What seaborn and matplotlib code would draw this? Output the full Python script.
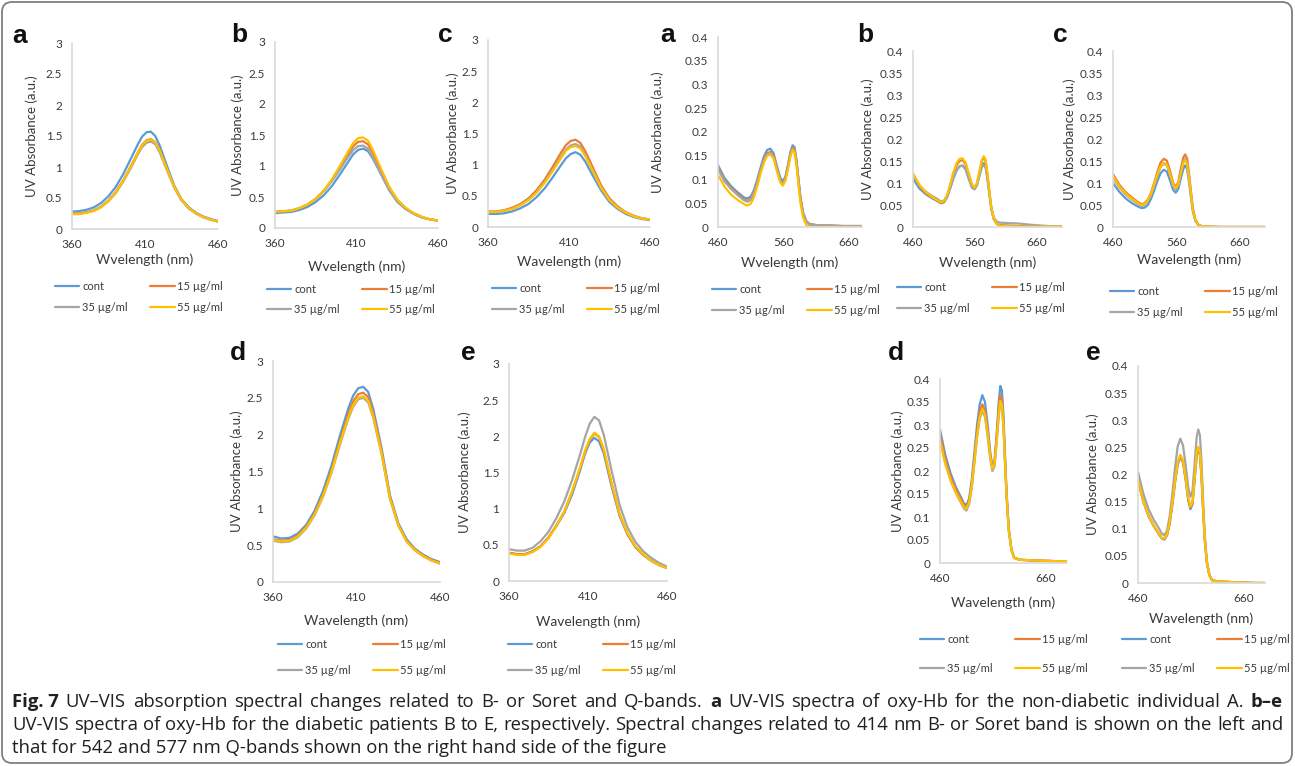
import numpy as np
import pandas as pd
import matplotlib
matplotlib.use('Agg')
import matplotlib.pyplot as plt
import seaborn as sns
from matplotlib.lines import Line2D
from matplotlib.patches import FancyBboxPatch
from matplotlib.transforms import IdentityTransform

sns.set_theme(style='white')
plt.rcParams['font.family'] = ['Lato', 'DejaVu Sans']

W, H = 1295, 766

series = ['cont', '15 µg/ml', '35 µg/ml', '55 µg/ml']
colors = ['#5B9BD5', '#ED7D31', '#A5A5A5', '#FFC000']

# ---- Soret (B) band, 360-460 nm ----
soret_wl = [360, 365, 370, 375, 380, 385, 390, 395, 400, 405, 408, 411, 414,
            417, 420, 425, 430, 435, 440, 445, 450, 455, 460]

soret_a = [
    [0.28, 0.29, 0.31, 0.35, 0.42, 0.53, 0.68, 0.88, 1.12, 1.36, 1.49, 1.56, 1.57, 1.50, 1.35, 1.02, 0.70, 0.48, 0.35, 0.26, 0.20, 0.16, 0.13],
    [0.25, 0.25, 0.27, 0.30, 0.36, 0.46, 0.60, 0.78, 1.00, 1.23, 1.36, 1.43, 1.45, 1.40, 1.27, 0.97, 0.68, 0.47, 0.34, 0.25, 0.19, 0.15, 0.12],
    [0.25, 0.25, 0.27, 0.30, 0.36, 0.45, 0.58, 0.76, 0.97, 1.20, 1.32, 1.39, 1.41, 1.37, 1.24, 0.95, 0.67, 0.46, 0.33, 0.25, 0.19, 0.15, 0.12],
    [0.24, 0.24, 0.26, 0.29, 0.35, 0.45, 0.59, 0.77, 0.99, 1.22, 1.35, 1.42, 1.44, 1.40, 1.27, 0.97, 0.68, 0.47, 0.34, 0.25, 0.19, 0.15, 0.12],
]
soret_b = [
    [0.24, 0.25, 0.26, 0.29, 0.34, 0.42, 0.53, 0.68, 0.87, 1.07, 1.19, 1.26, 1.28, 1.24, 1.12, 0.87, 0.62, 0.43, 0.31, 0.23, 0.17, 0.14, 0.12],
    [0.26, 0.27, 0.28, 0.32, 0.38, 0.47, 0.60, 0.77, 0.98, 1.20, 1.32, 1.39, 1.40, 1.35, 1.21, 0.92, 0.65, 0.45, 0.32, 0.24, 0.18, 0.14, 0.12],
    [0.26, 0.27, 0.28, 0.32, 0.38, 0.47, 0.60, 0.76, 0.95, 1.15, 1.26, 1.32, 1.33, 1.28, 1.14, 0.87, 0.61, 0.42, 0.31, 0.23, 0.17, 0.14, 0.12],
    [0.26, 0.27, 0.28, 0.32, 0.38, 0.47, 0.61, 0.79, 1.01, 1.24, 1.37, 1.45, 1.46, 1.41, 1.26, 0.96, 0.67, 0.46, 0.33, 0.24, 0.18, 0.14, 0.12],
]
soret_c = [
    [0.21, 0.21, 0.22, 0.25, 0.30, 0.37, 0.48, 0.62, 0.80, 0.99, 1.10, 1.17, 1.20, 1.16, 1.05, 0.81, 0.58, 0.40, 0.29, 0.21, 0.16, 0.13, 0.11],
    [0.25, 0.25, 0.27, 0.31, 0.37, 0.46, 0.59, 0.76, 0.97, 1.19, 1.31, 1.38, 1.40, 1.35, 1.22, 0.94, 0.66, 0.46, 0.33, 0.24, 0.18, 0.14, 0.12],
    [0.24, 0.24, 0.26, 0.29, 0.35, 0.44, 0.56, 0.72, 0.92, 1.12, 1.24, 1.31, 1.33, 1.29, 1.16, 0.89, 0.63, 0.44, 0.31, 0.23, 0.17, 0.14, 0.12],
    [0.24, 0.24, 0.26, 0.29, 0.35, 0.43, 0.55, 0.71, 0.90, 1.10, 1.22, 1.28, 1.30, 1.26, 1.14, 0.88, 0.62, 0.43, 0.31, 0.23, 0.17, 0.14, 0.12],
]
soret_d = [
    [0.62, 0.59, 0.60, 0.66, 0.78, 0.97, 1.24, 1.58, 1.98, 2.35, 2.53, 2.63, 2.65, 2.58, 2.35, 1.82, 1.18, 0.80, 0.58, 0.45, 0.37, 0.31, 0.27],
    [0.58, 0.56, 0.57, 0.63, 0.75, 0.93, 1.19, 1.52, 1.91, 2.27, 2.45, 2.55, 2.57, 2.51, 2.29, 1.78, 1.15, 0.78, 0.56, 0.44, 0.36, 0.30, 0.26],
    [0.56, 0.54, 0.55, 0.61, 0.73, 0.91, 1.16, 1.48, 1.86, 2.21, 2.38, 2.48, 2.50, 2.44, 2.23, 1.74, 1.13, 0.77, 0.55, 0.43, 0.35, 0.29, 0.25],
    [0.57, 0.55, 0.56, 0.62, 0.74, 0.92, 1.17, 1.49, 1.88, 2.23, 2.40, 2.50, 2.52, 2.46, 2.25, 1.75, 1.14, 0.77, 0.55, 0.43, 0.35, 0.29, 0.25],
]
soret_e = [
    [0.39, 0.37, 0.37, 0.41, 0.48, 0.60, 0.76, 0.94, 1.20, 1.53, 1.75, 1.91, 1.98, 1.93, 1.76, 1.30, 0.90, 0.64, 0.47, 0.36, 0.28, 0.22, 0.18],
    [0.39, 0.37, 0.37, 0.41, 0.48, 0.60, 0.77, 0.96, 1.24, 1.56, 1.78, 1.95, 2.04, 1.99, 1.81, 1.34, 0.92, 0.65, 0.47, 0.36, 0.28, 0.22, 0.18],
    [0.44, 0.42, 0.42, 0.46, 0.55, 0.68, 0.87, 1.10, 1.40, 1.75, 1.98, 2.17, 2.27, 2.22, 2.02, 1.52, 1.05, 0.74, 0.54, 0.41, 0.32, 0.25, 0.20],
    [0.38, 0.36, 0.36, 0.40, 0.47, 0.59, 0.76, 0.96, 1.24, 1.57, 1.79, 1.96, 2.05, 2.00, 1.82, 1.35, 0.93, 0.66, 0.48, 0.37, 0.28, 0.22, 0.18],
]

# ---- Q bands, 460-700 nm ----
q_wl = [460, 470, 480, 490, 500, 505, 510, 515, 520, 525, 530, 535, 540, 545,
        550, 555, 559, 563, 567, 571, 574, 577, 580, 583, 586, 590, 595, 600,
        610, 630, 650, 680, 700]

q_a = [
    [.130, .103, .086, .073, .062, .060, .064, .078, .100, .125, .148, .162, .165, .155, .128, .104, .096, .106, .132, .160, .172, .168, .140, .100, .062, .030, .012, .006, .004, .003, .002, .002, .002],
    [.125, .098, .082, .069, .058, .055, .059, .073, .095, .120, .142, .155, .158, .149, .123, .099, .092, .102, .128, .156, .168, .164, .137, .098, .060, .029, .012, .006, .004, .003, .002, .002, .002],
    [.122, .096, .080, .067, .056, .053, .057, .071, .093, .118, .140, .153, .156, .147, .121, .098, .091, .101, .126, .154, .165, .161, .134, .096, .059, .028, .011, .005, .004, .003, .002, .002, .002],
    [.110, .085, .068, .057, .048, .045, .049, .063, .086, .112, .135, .150, .153, .144, .118, .094, .087, .097, .123, .150, .162, .157, .128, .088, .050, .020, .004, .000, .000, .000, .000, .000, .000],
]
q_b = [
    [.110, .088, .075, .066, .058, .054, .056, .068, .088, .110, .128, .138, .140, .132, .110, .090, .086, .095, .118, .140, .145, .138, .110, .075, .042, .018, .007, .004, .003, .002, .002, .001, .001],
    [.120, .094, .078, .068, .060, .055, .058, .071, .094, .120, .140, .150, .152, .142, .118, .094, .088, .098, .124, .150, .158, .150, .118, .080, .045, .019, .007, .004, .003, .002, .002, .001, .001],
    [.118, .095, .081, .071, .063, .058, .060, .071, .090, .112, .130, .138, .139, .130, .108, .090, .086, .095, .116, .136, .141, .135, .108, .075, .045, .022, .012, .010, .009, .008, .005, .002, .001],
    [.122, .096, .080, .069, .060, .056, .059, .073, .097, .124, .145, .155, .156, .146, .121, .097, .090, .100, .127, .153, .161, .153, .121, .082, .046, .019, .007, .003, .002, .001, .001, .001, .001],
]
q_c = [
    [.100, .080, .065, .054, .046, .043, .044, .050, .064, .083, .104, .122, .130, .126, .106, .084, .078, .086, .110, .132, .140, .132, .103, .068, .036, .014, .004, .001, .000, .000, .000, .000, .000],
    [.120, .096, .079, .067, .056, .052, .054, .062, .078, .100, .125, .146, .155, .151, .128, .100, .091, .102, .132, .158, .165, .156, .122, .082, .044, .017, .005, .002, .001, .000, .000, .000, .000],
    [.112, .090, .074, .062, .052, .048, .050, .058, .073, .094, .117, .136, .144, .140, .119, .093, .085, .095, .123, .148, .155, .146, .114, .076, .041, .016, .005, .002, .001, .000, .000, .000, .000],
    [.115, .092, .076, .064, .054, .050, .052, .060, .075, .096, .119, .138, .146, .142, .121, .096, .088, .097, .122, .146, .152, .143, .112, .075, .040, .016, .005, .002, .001, .000, .000, .000, .000],
]
q_d = [
    [.290, .235, .195, .165, .142, .130, .126, .140, .180, .240, .300, .345, .365, .350, .300, .240, .208, .220, .280, .350, .385, .375, .320, .230, .150, .075, .030, .012, .007, .006, .005, .004, .004],
    [.280, .226, .188, .160, .138, .126, .121, .135, .172, .228, .285, .328, .345, .332, .288, .235, .210, .220, .272, .335, .365, .356, .305, .220, .145, .072, .029, .012, .007, .006, .005, .004, .004],
    [.270, .218, .180, .152, .130, .119, .114, .128, .163, .217, .272, .314, .330, .318, .276, .226, .200, .210, .260, .320, .350, .342, .292, .212, .140, .070, .028, .011, .007, .006, .005, .004, .004],
    [.265, .215, .180, .153, .132, .122, .118, .132, .166, .220, .275, .318, .335, .322, .280, .230, .205, .214, .263, .323, .352, .344, .294, .214, .141, .070, .028, .011, .007, .006, .005, .004, .004],
]
q_e = [
    [.190, .150, .123, .104, .089, .082, .080, .088, .110, .145, .185, .218, .232, .222, .190, .152, .136, .145, .190, .235, .246, .236, .195, .135, .082, .038, .014, .005, .003, .002, .001, .000, .000],
    [.190, .151, .124, .105, .090, .083, .082, .090, .112, .147, .188, .221, .235, .225, .193, .155, .139, .148, .193, .238, .249, .239, .197, .137, .083, .038, .014, .005, .003, .002, .001, .000, .000],
    [.205, .165, .136, .116, .100, .091, .088, .097, .124, .165, .213, .252, .266, .254, .218, .176, .159, .170, .220, .270, .283, .272, .224, .155, .092, .042, .015, .005, .003, .002, .001, .000, .000],
    [.190, .151, .124, .105, .090, .083, .082, .090, .113, .148, .189, .222, .236, .226, .194, .157, .141, .150, .195, .240, .251, .241, .198, .138, .084, .039, .014, .005, .003, .002, .001, .000, .000],
]

soret_ticks = [360, 410, 460]
q_ticks_top = [460, 560, 660]
q_ticks_bottom = [460, 660]

caption_1 = [("Fig. 7", True), ("UV–VIS", False), ("absorption", False), ("spectral", False),
             ("changes", False), ("related", False), ("to", False), ("B-", False), ("or", False),
             ("Soret", False), ("and", False), ("Q-bands.", False), ("a", True), ("UV-VIS", False),
             ("spectra", False), ("of", False), ("oxy-Hb", False), ("for", False), ("the", False),
             ("non-diabetic", False), ("individual", False), ("A.", False), ("b–e", True)]
caption_2 = ("UV-VIS spectra of oxy-Hb for the diabetic patients B to E, respectively. Spectral "
             "changes related to 414 nm B- or Soret band is shown on the left and")
caption_3 = "that for 542 and 577 nm Q-bands shown on the right hand side of the figure"

# panel layout in pixels: letter, data, wl, (x0, x1, ytop, ybot), letter pos, ylabel x, xlabel y, legend (x, y, gap), xlabel
panels = [
    ('a', soret_a, soret_wl, (72, 218, 43, 229), (12, 43), 32, 260, (55, 287, 20), 'Wvelength (nm)'),
    ('b', soret_b, soret_wl, (275, 438, 42, 228), (231, 42), 238, 267, (267, 290, 19), 'Wvelength (nm)'),
    ('c', soret_c, soret_wl, (488, 650, 40, 227), (438, 42), 453, 262, (492, 289, 20), 'Wavelength (nm)'),
    ('a', q_a, q_wl, (718, 862, 37, 227), (660, 42), 658, 263, (712, 290, 20), 'Wvelength (nm)'),
    ('b', q_b, q_wl, (913, 1062, 51, 227), (857, 42), 868, 263, (897, 288, 20), 'Wvelength (nm)'),
    ('c', q_c, q_wl, (1113, 1265, 51, 227), (1053, 42), 1070, 260, (1110, 292, 20), 'Wavelength (nm)'),
    ('d', soret_d, soret_wl, (273, 440, 361, 582), (230, 360), 237, 621, (278, 645, 25), 'Wavelength (nm)'),
    ('e', soret_e, soret_wl, (509, 667, 364, 581), (461, 360), 465, 622, (508, 645, 25), 'Wavelength (nm)'),
    ('d', q_d, q_wl, (940, 1067, 379, 563), (888, 360), 898, 603, (920, 640, 28), 'Wavelength (nm)'),
    ('e', q_e, q_wl, (1138, 1265, 366, 583), (1086, 360), 1093, 619, (1122, 640, 28), 'Wavelength (nm)'),
]

fig = plt.figure(figsize=(W / 100, H / 100), dpi=100)
fig.patch.set_facecolor('white')

txt = '#3A3A3A'
leg_fs = 8
for i, (letter, vals, wl, box, lpos, ylx, xly, leg, xlab) in enumerate(panels):
    x0, x1, yt, yb = box
    ax = fig.add_axes([x0 / W, 1 - yb / H, (x1 - x0) / W, (yb - yt) / H])
    df = pd.DataFrame({
        'wl': wl * 4,
        'absorb': sum(vals, []),
        'sample': [s for s in series for _ in wl],
    })
    sns.lineplot(data=df, x='wl', y='absorb', hue='sample', hue_order=series,
                 palette=colors, linewidth=1.6, errorbar=None, legend=False, ax=ax)
    soret = wl[0] == 360
    if soret:
        ax.set_xlim(360, 460)
        ax.set_xticks(soret_ticks)
        ax.set_ylim(0, 3)
        ax.set_yticks(np.arange(0, 3.01, 0.5))
    else:
        ax.set_xlim(460, 680 if i == 3 else 700)
        ax.set_xticks(q_ticks_top if i < 6 else q_ticks_bottom)
        ax.set_ylim(0, 0.4)
        ax.set_yticks(np.arange(0, 0.401, 0.05))
    ax.yaxis.set_major_formatter(matplotlib.ticker.FuncFormatter(lambda v, p: f'{v:g}'))
    ax.tick_params(length=0, labelsize=8.5, colors=txt, pad=7)
    for s in ['top', 'right']:
        ax.spines[s].set_visible(False)
    for s in ['left', 'bottom']:
        ax.spines[s].set_color('#D9D9D9')
        ax.spines[s].set_linewidth(1.2)
    ax.set_facecolor('white')

    ax.set_xlabel(xlab, fontsize=10, color=txt)
    ax.xaxis.label.set_va('center')
    ax.xaxis.set_label_coords(0.5, -(xly - yb) / (yb - yt))
    ax.set_ylabel('UV Absorbance (a.u.)', fontsize=9.5, color=txt)
    ax.yaxis.label.set_va('center')
    ax.yaxis.set_label_coords(-(x0 - ylx) / (x1 - x0), 0.5)

    fig.text(lpos[0] / W, 1 - lpos[1] / H, letter, fontsize=19, fontweight='bold',
             family=['Liberation Sans', 'DejaVu Sans'], va='baseline', ha='left', color='#111111')

    handles = [Line2D([], [], color=c, lw=1.6) for c in colors]
    order = [0, 2, 1, 3]
    lx, ly, gap = leg
    ax.legend([handles[k] for k in order], [series[k] for k in order], ncol=2,
              loc='upper left', bbox_to_anchor=(lx / W, 1 - (ly - 6) / H),
              bbox_transform=fig.transFigure, frameon=False, borderpad=0,
              borderaxespad=0, handlelength=2.2, handletextpad=0.25,
              columnspacing=2.0, labelspacing=(gap - 10) / 11.1, fontsize=leg_fs,
              labelcolor=txt)

# caption
renderer = fig.canvas.get_renderer()
cap_font = ['Open Sans', 'DejaVu Sans']
cap_col = '#231F20'
probe = fig.text(0, 0, caption_2, fontsize=11, family=cap_font)
cap_size = 11 * 1262 / probe.get_window_extent(renderer).width
probe.remove()


def justify(tokens, y_base, left=12, right=1283):
    items = []
    for word, bold in tokens:
        t = fig.text(0, 1 - y_base / H, word, fontsize=cap_size, family=cap_font,
                     fontweight='bold' if bold else 'normal', va='baseline',
                     ha='left', color=cap_col)
        items.append((t, t.get_window_extent(renderer).width))
    total = sum(w for _, w in items)
    gap = (right - left - total) / (len(items) - 1)
    x = left
    for t, w in items:
        t.set_x(x / W)
        x += w + gap


justify(caption_1, 707)
justify([(w, False) for w in caption_2.split(' ')], 730)
fig.text(12 / W, 1 - 753 / H, caption_3, fontsize=cap_size, family=cap_font,
         va='baseline', ha='left', color=cap_col)

border = FancyBboxPatch((2, 3), 1290, 761, boxstyle='round,pad=0,rounding_size=10',
                        transform=IdentityTransform(), fill=False, ec='#7F7F7F', lw=1.3)
fig.add_artist(border)

fig.savefig('out.png', dpi=100, facecolor='white')
